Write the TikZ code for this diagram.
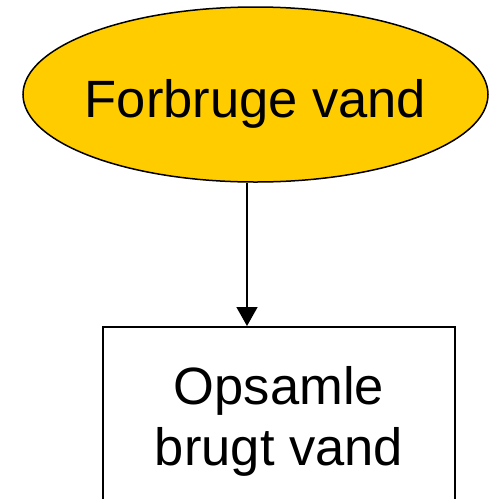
\documentclass[tikz,border=0pt]{standalone}
\usepackage{fontspec}
\setmainfont{Liberation Sans}
\usetikzlibrary{shapes.geometric,arrows.meta}
\definecolor{gold}{HTML}{FFCC00}
\tikzset{
  bigfont/.style={font=\fontsize{52.5}{61}\selectfont},
  startnode/.style={ellipse,draw,line width=1.5pt,fill=gold,bigfont,
    minimum width=465pt,minimum height=175pt,inner xsep=-10pt,inner ysep=0pt,
    text height=45pt,text depth=0pt},
  procnode/.style={rectangle,draw,line width=2pt,bigfont,align=center,
    minimum width=352pt,minimum height=188pt,inner sep=0pt}
}

\begin{document}
\begin{tikzpicture}
\useasboundingbox (0,0) rectangle (493pt,-499pt);
\node[startnode] (use) at (255.5pt,-94.5pt) {Forbruge vand};
\node[procnode] (collect) at (279pt,-421pt) {Opsamle\\brugt vand};
\coordinate (flow) at (247pt,0);
\draw[line width=1.5pt,-{Triangle[length=19pt,width=21pt]}] (use.south -| flow) -- (collect.north -| flow);
\end{tikzpicture}
\end{document}
